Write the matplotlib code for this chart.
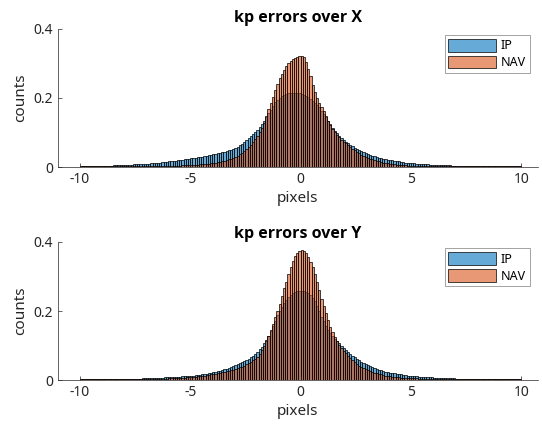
import numpy as np
import matplotlib
matplotlib.use('Agg')
import matplotlib.pyplot as plt
from matplotlib.ticker import FuncFormatter

# --- データ (0.1 px ビン, -10 .. 10, 正規化済み) ---
BIN_START = -10.0
BIN_WIDTH = 0.1

# kp errors over X : IP
IP_X = [
    0.002, 0.002, 0.002, 0.002, 0.002, 0.003, 0.003, 0.003, 0.003, 0.003,
    0.003, 0.004, 0.004, 0.004, 0.004, 0.005, 0.005, 0.005, 0.005, 0.006,
    0.006, 0.006, 0.007, 0.007, 0.008, 0.008, 0.008, 0.009, 0.009, 0.009,
    0.010, 0.010, 0.011, 0.011, 0.012, 0.012, 0.013, 0.014, 0.014, 0.015,
    0.016, 0.017, 0.017, 0.018, 0.019, 0.020, 0.021, 0.022, 0.023, 0.024,
    0.025, 0.026, 0.027, 0.028, 0.029, 0.030, 0.031, 0.032, 0.034, 0.035,
    0.037, 0.038, 0.040, 0.041, 0.043, 0.044, 0.046, 0.048, 0.050, 0.052,
    0.055, 0.058, 0.063, 0.067, 0.072, 0.077, 0.083, 0.089, 0.095, 0.101,
    0.108, 0.116, 0.125, 0.134, 0.144, 0.155, 0.166, 0.177, 0.187, 0.195,
    0.200, 0.204, 0.208, 0.211, 0.213, 0.215, 0.215, 0.215, 0.214, 0.213,
    0.211, 0.209, 0.206, 0.202, 0.197, 0.192, 0.186, 0.179, 0.172, 0.163,
    0.154, 0.144, 0.134, 0.124, 0.114, 0.105, 0.097, 0.090, 0.084, 0.078,
    0.073, 0.068, 0.064, 0.060, 0.056, 0.052, 0.049, 0.046, 0.043, 0.040,
    0.038, 0.035, 0.033, 0.031, 0.029, 0.027, 0.026, 0.024, 0.023, 0.021,
    0.020, 0.019, 0.018, 0.017, 0.016, 0.015, 0.014, 0.013, 0.013, 0.012,
    0.011, 0.011, 0.010, 0.010, 0.009, 0.009, 0.008, 0.008, 0.007, 0.007,
    0.007, 0.006, 0.006, 0.006, 0.005, 0.005, 0.005, 0.005, 0.004, 0.004,
    0.004, 0.004, 0.003, 0.003, 0.003, 0.003, 0.003, 0.003, 0.003, 0.003,
    0.003, 0.003, 0.002, 0.002, 0.002, 0.002, 0.002, 0.002, 0.002, 0.002,
    0.002, 0.002, 0.002, 0.002, 0.002, 0.002, 0.002, 0.002, 0.002, 0.002,
]

# kp errors over X : NAV
NAV_X = [
    0.002, 0.002, 0.002, 0.002, 0.002, 0.002, 0.002, 0.002, 0.002, 0.002,
    0.002, 0.002, 0.002, 0.002, 0.002, 0.002, 0.002, 0.002, 0.002, 0.002,
    0.002, 0.002, 0.002, 0.002, 0.002, 0.002, 0.002, 0.002, 0.002, 0.002,
    0.002, 0.002, 0.002, 0.002, 0.002, 0.003, 0.003, 0.003, 0.003, 0.003,
    0.003, 0.003, 0.004, 0.004, 0.004, 0.004, 0.005, 0.005, 0.005, 0.006,
    0.006, 0.006, 0.007, 0.007, 0.008, 0.008, 0.009, 0.010, 0.010, 0.011,
    0.012, 0.013, 0.014, 0.015, 0.017, 0.018, 0.020, 0.022, 0.024, 0.027,
    0.030, 0.033, 0.037, 0.041, 0.046, 0.051, 0.057, 0.064, 0.071, 0.080,
    0.090, 0.100, 0.113, 0.128, 0.147, 0.168, 0.186, 0.203, 0.222, 0.240,
    0.256, 0.270, 0.281, 0.292, 0.301, 0.307, 0.312, 0.316, 0.319, 0.321,
    0.322, 0.318, 0.303, 0.283, 0.262, 0.238, 0.216, 0.199, 0.186, 0.172,
    0.162, 0.148, 0.132, 0.120, 0.110, 0.101, 0.093, 0.086, 0.079, 0.073,
    0.068, 0.063, 0.058, 0.053, 0.048, 0.044, 0.040, 0.036, 0.033, 0.030,
    0.027, 0.024, 0.022, 0.020, 0.018, 0.016, 0.014, 0.013, 0.012, 0.011,
    0.010, 0.009, 0.008, 0.007, 0.007, 0.006, 0.005, 0.005, 0.004, 0.004,
    0.004, 0.003, 0.003, 0.003, 0.003, 0.002, 0.002, 0.002, 0.002, 0.002,
    0.002, 0.002, 0.002, 0.002, 0.002, 0.002, 0.002, 0.002, 0.002, 0.002,
    0.002, 0.002, 0.002, 0.002, 0.002, 0.002, 0.002, 0.002, 0.002, 0.002,
    0.002, 0.002, 0.002, 0.002, 0.002, 0.002, 0.002, 0.002, 0.002, 0.002,
    0.002, 0.002, 0.002, 0.002, 0.002, 0.002, 0.002, 0.002, 0.002, 0.002,
]

# kp errors over Y : IP
IP_Y = [
    0.002, 0.002, 0.002, 0.002, 0.002, 0.002, 0.002, 0.002, 0.002, 0.002,
    0.002, 0.002, 0.002, 0.002, 0.002, 0.002, 0.003, 0.002, 0.003, 0.003,
    0.003, 0.003, 0.003, 0.004, 0.004, 0.004, 0.004, 0.004, 0.005, 0.005,
    0.005, 0.005, 0.006, 0.006, 0.006, 0.007, 0.007, 0.007, 0.008, 0.008,
    0.008, 0.009, 0.009, 0.009, 0.010, 0.010, 0.011, 0.011, 0.012, 0.012,
    0.013, 0.013, 0.014, 0.015, 0.015, 0.016, 0.017, 0.018, 0.020, 0.021,
    0.023, 0.024, 0.026, 0.027, 0.029, 0.031, 0.033, 0.035, 0.037, 0.040,
    0.043, 0.046, 0.049, 0.052, 0.055, 0.058, 0.062, 0.066, 0.070, 0.075,
    0.082, 0.089, 0.097, 0.106, 0.116, 0.128, 0.141, 0.156, 0.172, 0.187,
    0.200, 0.212, 0.222, 0.231, 0.240, 0.247, 0.252, 0.255, 0.257, 0.258,
    0.258, 0.257, 0.255, 0.251, 0.246, 0.239, 0.228, 0.215, 0.200, 0.184,
    0.170, 0.157, 0.146, 0.137, 0.128, 0.120, 0.113, 0.106, 0.099, 0.093,
    0.087, 0.081, 0.076, 0.071, 0.066, 0.061, 0.057, 0.053, 0.049, 0.046,
    0.043, 0.040, 0.037, 0.035, 0.032, 0.030, 0.028, 0.026, 0.024, 0.023,
    0.021, 0.020, 0.019, 0.018, 0.017, 0.016, 0.015, 0.014, 0.013, 0.013,
    0.012, 0.011, 0.011, 0.010, 0.010, 0.009, 0.009, 0.008, 0.008, 0.008,
    0.007, 0.007, 0.007, 0.006, 0.006, 0.006, 0.005, 0.005, 0.005, 0.005,
    0.004, 0.004, 0.004, 0.004, 0.004, 0.003, 0.003, 0.003, 0.003, 0.003,
    0.003, 0.003, 0.002, 0.002, 0.002, 0.002, 0.002, 0.002, 0.002, 0.002,
    0.002, 0.002, 0.002, 0.002, 0.002, 0.002, 0.002, 0.002, 0.002, 0.002,
]

# kp errors over Y : NAV
NAV_Y = [
    0.002, 0.002, 0.002, 0.002, 0.002, 0.002, 0.002, 0.002, 0.002, 0.002,
    0.002, 0.002, 0.002, 0.002, 0.002, 0.002, 0.002, 0.002, 0.002, 0.002,
    0.002, 0.002, 0.002, 0.002, 0.002, 0.002, 0.002, 0.002, 0.002, 0.002,
    0.002, 0.003, 0.003, 0.003, 0.003, 0.003, 0.004, 0.004, 0.004, 0.004,
    0.005, 0.005, 0.005, 0.006, 0.006, 0.006, 0.007, 0.007, 0.008, 0.008,
    0.009, 0.009, 0.010, 0.011, 0.012, 0.013, 0.013, 0.014, 0.015, 0.016,
    0.017, 0.018, 0.019, 0.021, 0.022, 0.023, 0.025, 0.026, 0.028, 0.030,
    0.032, 0.034, 0.037, 0.039, 0.042, 0.045, 0.049, 0.053, 0.057, 0.062,
    0.068, 0.075, 0.086, 0.099, 0.114, 0.128, 0.145, 0.163, 0.182, 0.201,
    0.220, 0.244, 0.266, 0.285, 0.308, 0.328, 0.346, 0.360, 0.369, 0.374,
    0.377, 0.375, 0.368, 0.356, 0.343, 0.328, 0.308, 0.285, 0.260, 0.235,
    0.214, 0.193, 0.173, 0.155, 0.139, 0.125, 0.113, 0.102, 0.093, 0.085,
    0.077, 0.070, 0.063, 0.057, 0.051, 0.046, 0.041, 0.037, 0.034, 0.031,
    0.028, 0.025, 0.023, 0.021, 0.019, 0.017, 0.016, 0.014, 0.013, 0.012,
    0.011, 0.010, 0.009, 0.009, 0.008, 0.007, 0.007, 0.006, 0.006, 0.006,
    0.005, 0.005, 0.005, 0.004, 0.004, 0.004, 0.003, 0.003, 0.003, 0.003,
    0.003, 0.003, 0.002, 0.002, 0.002, 0.002, 0.002, 0.002, 0.002, 0.002,
    0.002, 0.002, 0.002, 0.002, 0.002, 0.002, 0.002, 0.002, 0.002, 0.002,
    0.002, 0.002, 0.002, 0.002, 0.002, 0.002, 0.002, 0.002, 0.002, 0.002,
    0.002, 0.002, 0.002, 0.002, 0.002, 0.002, 0.002, 0.002, 0.002, 0.002,
]

TITLES = ['kp errors over X', 'kp errors over Y']
LEGEND_LABELS = ['IP', 'NAV']
X_TICKS = [-10, -5, 0, 5, 10]
Y_TICKS = [0, 0.2, 0.4]

# --- 見た目 ---
IP_COLOR = (0.0, 0.447, 0.741, 0.6)
NAV_COLOR = (0.85, 0.325, 0.098, 0.6)
AXIS_COLOR = '#262626'
AX_POSITIONS = [
    [0.1065, 0.6152, 0.886, 0.319],
    [0.1065, 0.1244, 0.886, 0.318],
]
TITLE_PADS = [5, 1]


def main():
    plt.rcParams['font.family'] = ['Noto Sans', 'DejaVu Sans']
    plt.rcParams['axes.unicode_minus'] = False

    fig = plt.figure(figsize=(5.42, 4.34), dpi=100)
    panels = [(IP_X, NAV_X), (IP_Y, NAV_Y)]

    for pos, title, pad, (ip, nav) in zip(AX_POSITIONS, TITLES, TITLE_PADS, panels):
        ax = fig.add_axes(pos)
        left_ip = BIN_START + BIN_WIDTH * np.arange(len(ip))
        left_nav = BIN_START + BIN_WIDTH * np.arange(len(nav))

        ax.bar(left_ip, ip, width=BIN_WIDTH, align='edge', facecolor=IP_COLOR,
               edgecolor='black', linewidth=0.5, label=LEGEND_LABELS[0])
        ax.bar(left_nav, nav, width=BIN_WIDTH, align='edge', facecolor=NAV_COLOR,
               edgecolor='black', linewidth=0.5, label=LEGEND_LABELS[1])

        ax.set_xlim(-11.0, 10.75)
        ax.set_ylim(0, 0.4)
        ax.set_xticks(X_TICKS)
        ax.set_yticks(Y_TICKS)
        ax.yaxis.set_major_formatter(FuncFormatter(lambda v, p: '%g' % v))
        ax.xaxis.set_major_formatter(FuncFormatter(lambda v, p: '%g' % v))

        for side in ['top', 'right']:
            ax.spines[side].set_visible(False)
        for side in ['left', 'bottom']:
            ax.spines[side].set_color(AXIS_COLOR)
            ax.spines[side].set_linewidth(0.5)

        ax.tick_params(direction='in', length=3, width=0.5, colors=AXIS_COLOR,
                       labelsize=10, labelcolor=AXIS_COLOR)
        ax.set_xlabel('pixels', fontsize=11, color=AXIS_COLOR, labelpad=3)
        ax.set_ylabel('counts', fontsize=11, color=AXIS_COLOR, labelpad=4)
        ax.set_title(title, fontsize=11.5, fontweight='bold', pad=pad,
                     family=['Open Sans', 'DejaVu Sans'])

        leg = ax.legend(loc='upper right', bbox_to_anchor=(0.983, 0.953),
                        borderaxespad=0, fancybox=False, framealpha=1,
                        edgecolor='#7f7f7f', fontsize=9, handlelength=3.8,
                        handleheight=1.2, handletextpad=0.4, labelspacing=0.25,
                        borderpad=0.3)
        leg.get_frame().set_linewidth(0.5)

    fig.savefig('out.png', dpi=100)
    plt.close(fig)


if __name__ == "__main__":
    main()
